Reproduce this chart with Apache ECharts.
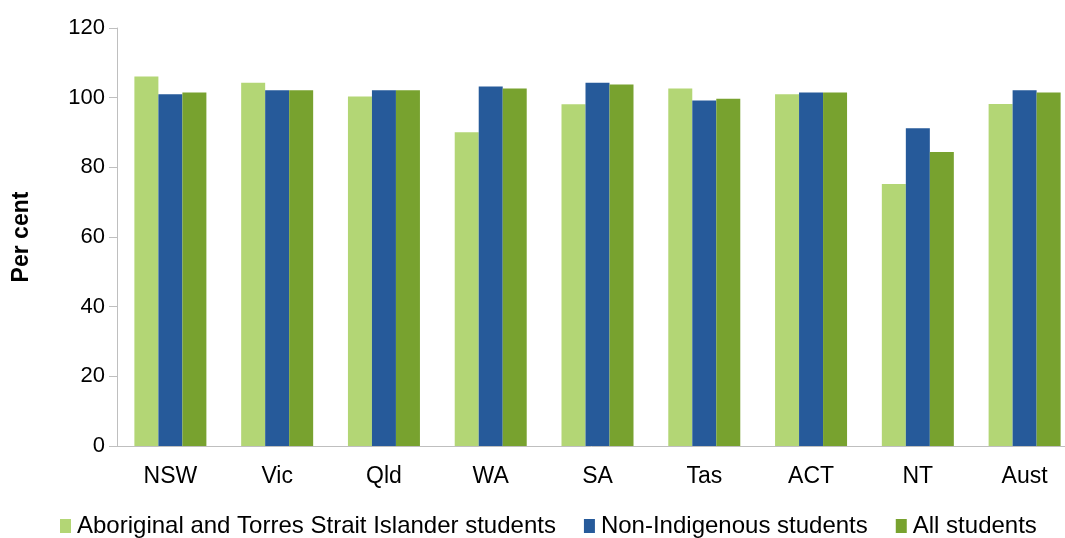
<!DOCTYPE html>
<html><head><meta charset="utf-8">
<script src="https://cdn.jsdelivr.net/npm/echarts@6/dist/echarts.min.js"></script>
<style>html,body{margin:0;padding:0;background:#fff}#c{width:1065px;height:538px}</style>
</head><body><div id="c"></div>
<script>
const categories = ['NSW','Vic','Qld','WA','SA','Tas','ACT','NT','Aust'];
const indigenous = [106.1, 104.3, 100.3, 90.1, 98.1, 102.6, 101.0, 75.2, 98.2];
const nonIndigenous = [101.0, 102.1, 102.1, 103.2, 104.3, 99.2, 101.5, 91.2, 102.1];
const allStudents = [101.5, 102.1, 102.1, 102.6, 103.8, 99.7, 101.5, 84.4, 101.5];
const seriesNames = ['Aboriginal and Torres Strait Islander students','Non-Indigenous students','All students'];
const yTicks = [0, 20, 40, 60, 80, 100, 120];

const colors = ['#B3D675','#265A9A','#78A22F'];
const chart = echarts.init(document.getElementById('c'), null, {renderer:'canvas'});
const font = 'Liberation Sans, Arial, sans-serif';
chart.setOption({
  animation:false,
  color: colors,
  grid:{left:117, width:961, top:28, height:418, containLabel:false, outerBoundsMode:'none'},
  legend:{
    top:509, left:55, itemWidth:11, itemHeight:14, itemGap:28,
    icon:'rect',
    textStyle:{fontFamily:font, fontSize:24, color:'#000', padding:[0,0,0,1]},
    data: seriesNames
  },
  xAxis:{
    type:'category', data:categories,
    axisLine:{show:true, lineStyle:{color:'#BFBFBF', width:1}},
    axisTick:{show:false},
    axisLabel:{fontFamily:font, fontSize:23, color:'#000', margin:19}
  },
  yAxis:{
    type:'value', min:yTicks[0], max:yTicks[yTicks.length-1], interval:20,
    name:'Per cent', nameLocation:'middle', nameGap:84, nameRotate:90,
    nameTextStyle:{fontFamily:font, fontSize:23, fontWeight:'bold', color:'#000'},
    axisLine:{show:true, lineStyle:{color:'#BFBFBF', width:1}},
    axisTick:{show:true, length:8, lineStyle:{color:'#BFBFBF'}},
    splitLine:{show:false},
    axisLabel:{fontFamily:font, fontSize:22, color:'#000', margin:12}
  },
  series:[
    {name:seriesNames[0], type:'bar', data:indigenous, barWidth:24, barGap:'0%'},
    {name:seriesNames[1], type:'bar', data:nonIndigenous, barWidth:24, barGap:'0%'},
    {name:seriesNames[2], type:'bar', data:allStudents, barWidth:24, barGap:'0%'}
  ]
});
</script></body></html>
